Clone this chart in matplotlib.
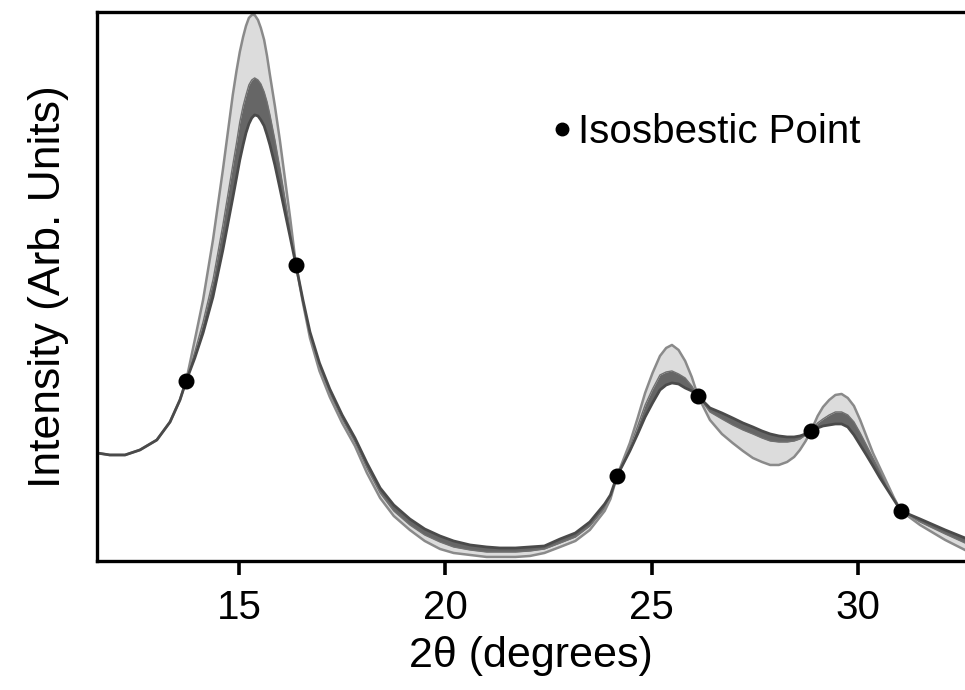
import matplotlib.pyplot as plt
import numpy as np

plt.rcParams['font.family'] = ['Liberation Sans', 'DejaVu Sans']

# Data (2theta in degrees, intensity in arbitrary units)
two_theta = [11.56, 11.87, 12.24, 12.60, 13.01, 13.33, 13.57, 13.72, 13.93, 14.13,
             14.37, 14.61, 14.85, 14.94, 15.02, 15.10, 15.17, 15.24, 15.31, 15.38,
             15.46, 15.53, 15.61, 15.68, 15.75, 15.87, 15.99, 16.24, 16.38, 16.55,
             16.72, 16.95, 17.20, 17.50, 17.81, 18.10, 18.42, 18.75, 19.14, 19.50,
             19.87, 20.20, 20.60, 21.00, 21.32, 21.70, 22.05, 22.40, 22.78, 23.15,
             23.50, 23.86, 24.00, 24.16, 24.47, 24.66, 24.84, 25.02, 25.20,
             25.35, 25.49, 25.65, 25.81, 25.97, 26.12, 26.41, 26.70, 26.96, 27.21,
             27.45, 27.67, 27.87, 28.08, 28.28, 28.45, 28.59, 28.73, 28.86, 29.02,
             29.15, 29.30, 29.45, 29.60, 29.75, 29.90, 30.05, 30.20, 30.36, 30.53,
             30.70, 30.87, 31.04, 31.50, 32.11, 32.59]

# most intense pattern (light grey end of the series)
high = [108, 106, 106, 111, 121, 139, 161, 180, 221, 261,
        321, 391, 466, 490, 509, 524, 535, 543, 546, 546,
        541, 533, 521, 505, 486, 455, 421, 343, 296, 258,
        223, 190, 164, 138, 115, 88, 63, 45, 31, 20,
        12, 8, 6, 4, 4, 4, 5, 8, 14, 20,
        31, 50, 62, 85, 118, 143, 168, 188, 205,
        213, 216, 211, 200, 184, 165, 141, 127, 118, 110,
        103, 99, 96, 96, 99, 104, 111, 120, 130, 145,
        154, 161, 166, 167, 163, 155, 141, 125, 108, 93,
        78, 63, 50, 36, 21, 11]

# boundary between light and dark groups of patterns
mid = [108, 106, 106, 111, 121, 139, 161, 180, 209, 239,
       281, 336, 396, 418, 439, 455, 466, 476, 481, 483,
       481, 477, 469, 459, 446, 421, 393, 331, 296, 259,
       226, 194, 168, 142, 119, 93, 68, 50, 36, 26,
       19, 14, 11, 9, 9, 9, 10, 12, 18, 24,
       35, 53, 64, 85, 114, 135, 156, 172, 186,
       189, 190, 187, 183, 175, 165, 149, 142, 136, 131,
       127, 123, 120, 119, 119, 120, 122, 126, 130, 138,
       142, 146, 149, 149, 146, 139, 128, 116, 103, 90,
       76, 63, 50, 39, 27, 18]

# least intense pattern (dark grey end of the series)
low = [108, 106, 106, 111, 121, 139, 161, 180, 203, 228,
       264, 311, 363, 383, 401, 416, 428, 437, 443, 446,
       445, 441, 435, 426, 416, 396, 373, 324, 296, 261,
       229, 198, 172, 146, 123, 98, 73, 56, 42, 32,
       25, 20, 16, 14, 13, 13, 14, 15, 22, 28,
       39, 57, 66, 85, 110, 127, 144, 158, 171,
       176, 178, 177, 173, 170, 165, 153, 148, 143, 138,
       134, 130, 127, 125, 124, 124, 125, 127, 130, 133,
       135, 136, 137, 137, 134, 126, 116, 106, 95, 83,
       72, 61, 50, 42, 31, 23]

# isosbestic points
iso_x = [13.72, 16.38, 24.16, 26.12, 28.86, 31.04]
iso_y = [180, 296, 85, 165, 130, 50]

fig = plt.figure(figsize=(9.65, 6.9), dpi=100)
ax = fig.add_axes([0.1005, 0.187, 0.8995, 0.7957])

ax.fill_between(two_theta, high, mid, color='#dcdcdc', lw=0)
ax.fill_between(two_theta, mid, low, color='#666666', lw=0)
ax.plot(two_theta, mid, color='#707070', lw=1.0, solid_joinstyle='round')
ax.plot(two_theta, high, color='#8a8a8a', lw=1.8, solid_joinstyle='round')
ax.plot(two_theta, low, color='#4a4a4a', lw=2.0, solid_joinstyle='round')

ax.plot(iso_x, iso_y, 'o', color='black', ms=10.5, zorder=5)

# label
ax.plot([0.5357], [0.787], 'o', color='black', ms=9, transform=ax.transAxes)
ax.text(0.554, 0.761, 'Isosbestic Point', fontsize=29, transform=ax.transAxes,
        va='baseline', ha='left')

ax.set_xlim(11.56, 32.59)
ax.set_ylim(0, 549)
ax.set_xticks([15, 20, 25, 30])
ax.set_yticks([])
ax.tick_params(axis='x', direction='out', length=10, width=2.6, pad=10, labelsize=29)
for s in ['top', 'left', 'bottom']:
    ax.spines[s].set_linewidth(2.4)
ax.spines['right'].set_visible(False)

ax.set_xlabel('2θ (degrees)', fontsize=31, labelpad=7)
ax.set_ylabel('Intensity (Arb. Units)', fontsize=32, labelpad=20)

fig.savefig('out.png', dpi=100)
